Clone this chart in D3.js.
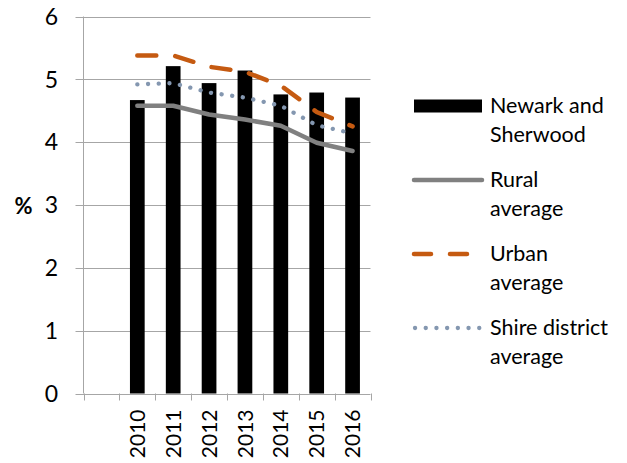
<!DOCTYPE html>
<html><head><meta charset="utf-8">
<script src="https://cdn.jsdelivr.net/npm/d3@7/dist/d3.min.js"></script>
<style>
body{margin:0;background:#fff;}
text{font-family:Lato, "Open Sans", sans-serif;fill:#000;}
</style></head>
<body>
<svg id="c" width="627" height="463"></svg>
<script>
const categories = ["", "2010", "2011", "2012", "2013", "2014", "2015", "2016"];
const years = ["2010", "2011", "2012", "2013", "2014", "2015", "2016"];
const newark = [4.67, 5.21, 4.94, 5.14, 4.76, 4.79, 4.71];
const rural = [4.58, 4.58, 4.44, 4.36, 4.26, 3.99, 3.86];
const urban = [5.38, 5.38, 5.20, 5.12, 4.90, 4.48, 4.25];
const shire = [4.92, 4.94, 4.79, 4.71, 4.58, 4.27, 4.14];
const yTicks = [0, 1, 2, 3, 4, 5, 6];
const legendItems = [
  {key: "bar", lines: ["Newark and", "Sherwood"]},
  {key: "rural", lines: ["Rural", "average"]},
  {key: "urban", lines: ["Urban", "average"]},
  {key: "shire", lines: ["Shire district", "average"]}
];

const svg = d3.select("#c");
const L = 83.5, R = 370.5, T = 16.5, B = 393.5;
const x = d3.scaleBand().domain(categories).range([L, R]).padding(0);
const y = d3.scaleLinear().domain([0, 6]).range([B, T]);
const cx = d => x(d) + x.bandwidth() / 2;

// gridlines
svg.append("g").selectAll("line").data(yTicks).join("line")
  .attr("x1", L - 8).attr("x2", R)
  .attr("y1", d => Math.round(y(d)) + 0.5).attr("y2", d => Math.round(y(d)) + 0.5)
  .attr("stroke", "#a6a6a6").attr("stroke-width", 1);

// y axis line
svg.append("line").attr("x1", L).attr("x2", L).attr("y1", T).attr("y2", B)
  .attr("stroke", "#a6a6a6");

// x ticks
const xt = categories.map(c => x(c)).concat([R]);
svg.append("g").selectAll("line").data(xt).join("line")
  .attr("x1", d => Math.round(d) + 0.5).attr("x2", d => Math.round(d) + 0.5)
  .attr("y1", B).attr("y2", B + 7).attr("stroke", "#a6a6a6");

// y tick labels
svg.append("g").selectAll("text").data(yTicks).join("text")
  .attr("x", 58).attr("y", d => y(d)).attr("dy", "0.36em")
  .attr("text-anchor", "end").style("font-size", "23px").text(d => d);

// y axis title
svg.append("text").attr("x", 23.5).attr("y", y(3) + 1).attr("dy", "0.36em")
  .attr("text-anchor", "middle").style("font-size", "22px").style("font-weight", "bold").text("%");

// x labels
svg.append("g").selectAll("text").data(years).join("text")
  .attr("transform", d => `translate(${cx(d)},${B + 16}) rotate(-90)`)
  .attr("dy", "0.36em").attr("text-anchor", "end").style("font-size", "21px").text(d => d);

// bars
const bw = x.bandwidth() * 0.41;
svg.append("g").selectAll("rect").data(years).join("rect")
  .attr("x", d => cx(d) - bw / 2).attr("width", bw)
  .attr("y", (d, i) => y(newark[i])).attr("height", (d, i) => B - y(newark[i]))
  .attr("fill", "#000");

const line = d3.line().x((d, i) => cx(years[i])).y(d => y(d));
svg.append("path").datum(rural).attr("d", line).attr("fill", "none")
  .attr("stroke", "#808080").attr("stroke-width", 4.5).attr("stroke-linejoin", "round").attr("stroke-linecap", "round");
svg.append("path").datum(urban).attr("d", line).attr("fill", "none")
  .attr("stroke", "#c55a11").attr("stroke-width", 4.5).attr("stroke-dasharray", "19,19").attr("stroke-linecap", "round");
svg.append("path").datum(shire).attr("d", line).attr("fill", "none")
  .attr("stroke", "#8497b0").attr("stroke-width", 4.3).attr("stroke-dasharray", "0.1,10.6").attr("stroke-linecap", "round");

// legend
const ly = [106, 180, 254, 328];
const lg = svg.append("g");
legendItems.forEach((it, i) => {
  const yy = ly[i];
  if (it.key === "bar") {
    lg.append("rect").attr("x", 414).attr("y", yy - 6.5).attr("width", 68).attr("height", 13).attr("fill", "#000");
  } else if (it.key === "rural") {
    lg.append("line").attr("x1", 414).attr("x2", 482).attr("y1", yy).attr("y2", yy)
      .attr("stroke", "#808080").attr("stroke-width", 4.5).attr("stroke-linecap", "round");
  } else if (it.key === "urban") {
    lg.append("line").attr("x1", 414).attr("x2", 482).attr("y1", yy).attr("y2", yy)
      .attr("stroke", "#c55a11").attr("stroke-width", 4.5).attr("stroke-dasharray", "17,19").attr("stroke-linecap", "round");
  } else {
    lg.append("line").attr("x1", 415).attr("x2", 482).attr("y1", yy).attr("y2", yy)
      .attr("stroke", "#8497b0").attr("stroke-width", 4.3).attr("stroke-dasharray", "0.1,10.6").attr("stroke-linecap", "round");
  }
  const t = lg.append("text").attr("x", 490).attr("y", yy + 6.5).style("font-size", "21.5px");
  it.lines.forEach((s, j) => t.append("tspan").attr("x", 490).attr("dy", j ? 29 : 0).text(s));
});
</script>
</body></html>
